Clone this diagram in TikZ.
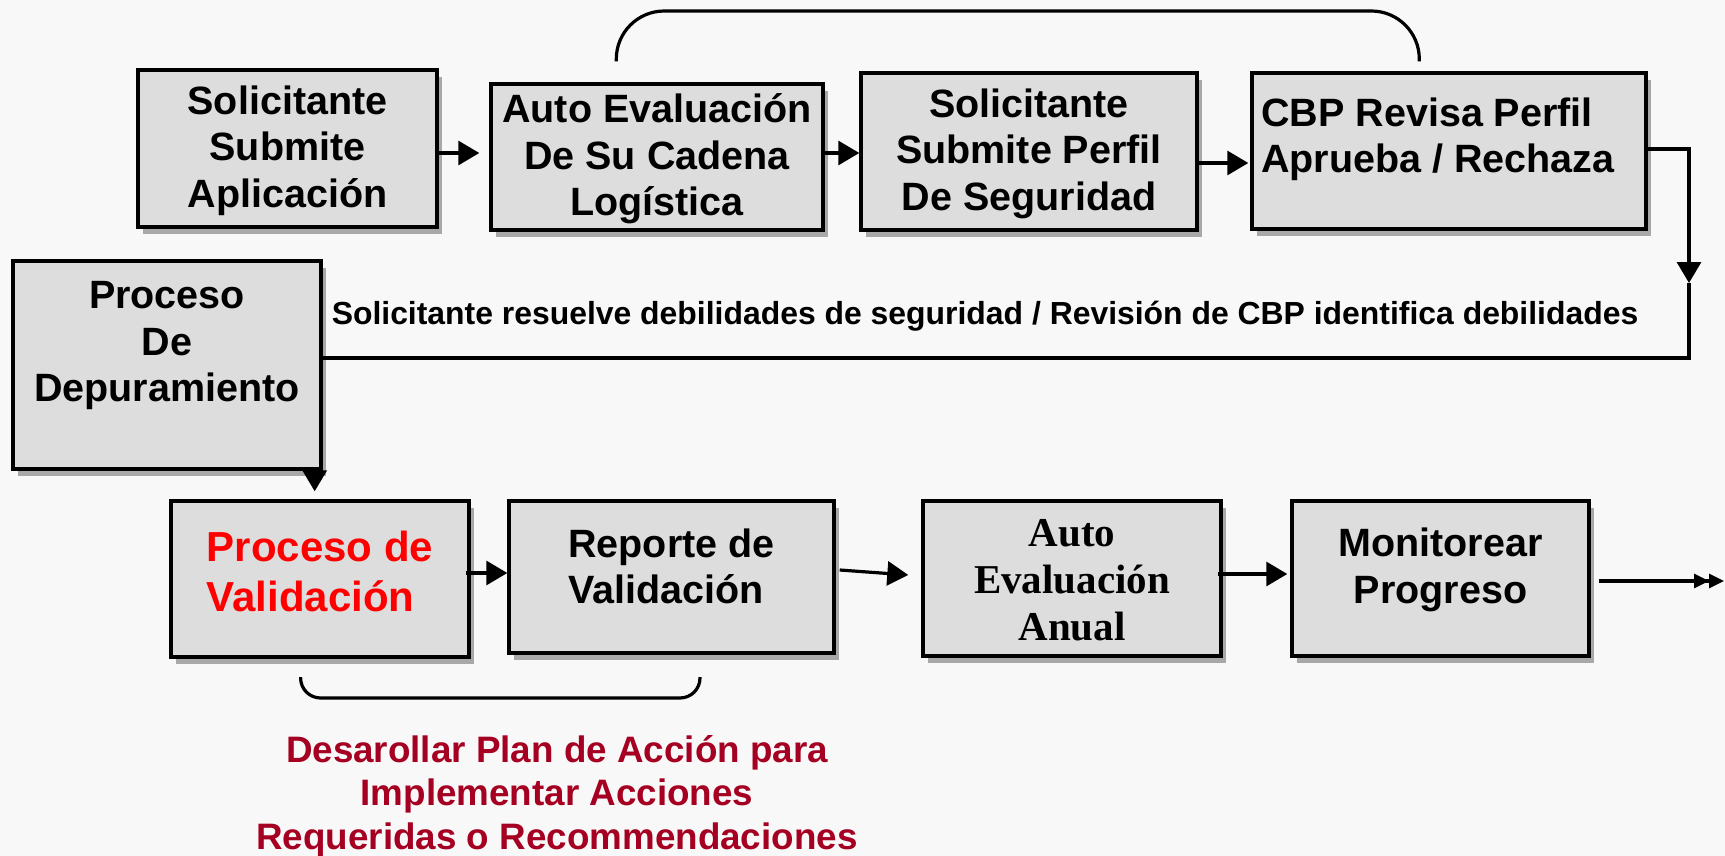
\documentclass[tikz,border=0pt]{standalone}
\usepackage{fontspec}
\setmainfont{Liberation Sans}
\newfontfamily\serifbf{Liberation Serif}
\usetikzlibrary{arrows.meta,shadows,calc}
\definecolor{bg}{HTML}{F8F8F8}
\definecolor{boxgray}{HTML}{DDDDDD}
\definecolor{shadowgray}{HTML}{A8A8A8}
\definecolor{darkred}{HTML}{A50021}
\definecolor{brightred}{HTML}{FF0000}
\begin{document}
\begin{tikzpicture}[x=1pt,y=-1pt,
  box/.style={rectangle, draw=black, line width=3.4pt, fill=boxgray, inner sep=0pt,
    drop shadow={shadow xshift=5pt, shadow yshift=-7pt, fill=shadowgray, opacity=1}},
  bt/.style={font=\fontsize{39.5}{46.5}\selectfont\bfseries},
  conn/.style={draw=black, line width=3.2pt},
  arr/.style={conn, -{Triangle[length=21pt,width=24pt]}},
  dbl/.style={conn, -{Triangle[length=15pt,width=14pt]Triangle[length=15pt,width=14pt]}},
]
\fill[bg] (0,0) rectangle (1725,856);
\useasboundingbox (0,0) rectangle (1725,856);

% top row
\node[box, bt, minimum width=299pt, minimum height=157pt] (b1) at (287.5,148.5)
  {\raisebox{-3pt}[\height][\depth]{\begin{tabular}{@{}c@{}}Solicitante\\Submite\\Aplicación\end{tabular}}};
\node[box, bt, minimum width=332pt, minimum height=146pt] (b2) at (657,157)
  {\raisebox{-3pt}[\height][\depth]{\begin{tabular}{@{}c@{}}Auto Evaluación\\De Su Cadena\\Logística\end{tabular}}};
\node[box, bt, minimum width=336pt, minimum height=157pt] (b3) at (1029,151.5)
  {\raisebox{-3pt}[\height][\depth]{\begin{tabular}{@{}c@{}}Solicitante\\Submite Perfil\\De Seguridad\end{tabular}}};
\node[box, bt, minimum width=394pt, minimum height=156pt] (b4) at (1449,151)
  {\raisebox{11pt}[\height][\depth]{\begin{tabular}{@{}l@{}}CBP Revisa Perfil\\Aprueba / Rechaza\end{tabular}}\hspace*{22pt}};

% middle
\node[box, bt, minimum width=308pt, minimum height=208pt] (b5) at (167,365)
  {\raisebox{19pt}[\height][\depth]{\begin{tabular}{@{}c@{}}Proceso\\De\\Depuramiento\end{tabular}}};
\node[font=\fontsize{31.9}{38}\selectfont\bfseries] (lbl) at (985,316.5)
  {Solicitante resuelve debilidades de seguridad / Revisión de CBP identifica debilidades};

% bottom row
\node[box, font=\fontsize{42}{50}\selectfont\bfseries, text=brightred, minimum width=298pt, minimum height=156pt] (b6) at (320,579)
  {\raisebox{3pt}[\height][\depth]{\begin{tabular}{@{}l@{}}Proceso de\\Validación\end{tabular}}};
\node[box, bt, minimum width=325pt, minimum height=152pt] (b7) at (671.5,577)
  {\raisebox{6pt}[\height][\depth]{\begin{tabular}{@{}l@{}}Reporte de\\Validación\end{tabular}}};
\node[box, font=\serifbf\bfseries\fontsize{41}{47}\selectfont, minimum width=298pt, minimum height=155pt] (b8) at (1072,578.5)
  {\raisebox{-6pt}[\height][\depth]{\begin{tabular}{@{}c@{}}Auto\\Evaluación\\Anual\end{tabular}}};
\node[box, bt, minimum width=297pt, minimum height=155pt] (b9) at (1440.5,578.5)
  {\raisebox{8pt}[\height][\depth]{\begin{tabular}{@{}c@{}}Monitorear\\Progreso\end{tabular}}};

\node[font=\fontsize{36.8}{43.5}\selectfont\bfseries, text=darkred] (plan) at (557,797)
  {\begin{tabular}{@{}c@{}}Desarollar Plan de Acción para\\Implementar Acciones\\Requeridas o Recommendaciones\end{tabular}};

% connectors top row
\draw[arr] ([yshift=-4.5pt]b1.east) -- ([yshift=-4.5pt,xshift=-10pt]b1.east -| b2.west);
\draw[arr] ([yshift=4pt]b2.east) -- ([yshift=4pt]b2.east -| b3.west);
\draw[arr] ([yshift=-11.5pt]b3.east) -- ([yshift=-11.5pt,xshift=-2pt]b3.east -| b4.west);

% top arc
\coordinate (c1) at ($(b2.north west)+(127,-21)$);
\coordinate (c2) at ($(b4.north west)+(169,-10)$);
\coordinate (ctop) at (1000,11);
\draw[conn, rounded corners=48pt] (c1) |- (ctop) -| (c2);

% feedback loop
\coordinate (k1) at (1689,283);
\coordinate (k2) at (1689,358);
\draw[arr] ([yshift=2pt]b4.east) -| (k1);
\draw[conn] (k1) -- (k2) -- (k2 -| b5.east);

% bottom row
\draw[arr] ([xshift=-8pt]b5.south east) -- ([xshift=-8pt,yshift=8pt]b5.south east |- b6.north);
\draw[arr] ([yshift=6pt,xshift=-5pt]b6.east) -- ([yshift=6pt]b6.east -| b7.west);
\draw[arr] ([yshift=7pt,xshift=4pt]b7.east) -- ([xshift=-13pt,yshift=3.5pt]b8.west);
\draw[arr] ([yshift=4.5pt,xshift=-5pt]b8.east) -- ([yshift=4.5pt,xshift=-3pt]b8.east -| b9.west);
\coordinate (endpt) at (1724,581);
\draw[dbl] ([xshift=8pt]b9.east |- endpt) -- (endpt);

% bracket
\coordinate (br1) at (300.6,677);
\coordinate (br2) at (700,677);
\coordinate (brb) at (500,698);
\draw[conn, rounded corners=20pt] (br1) |- (brb) -| (br2);
\end{tikzpicture}
\end{document}
